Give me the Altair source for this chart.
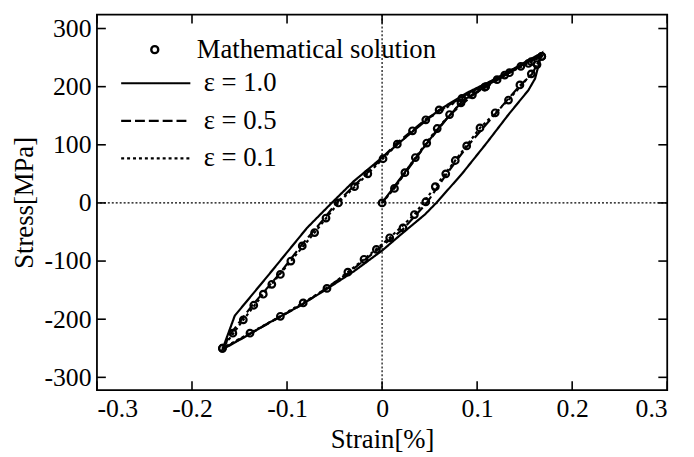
import altair as alt
import pandas as pd

# ---------------- data ----------------
x_ticks = [-0.3, -0.2, -0.1, 0.0, 0.1, 0.2, 0.3]
y_ticks = [-300, -200, -100, 0, 100, 200, 300]

# Mathematical solution (markers): initial loading, unloading branch, reloading branch
math_load_strain = [0.000, 0.013, 0.024, 0.035, 0.047, 0.058, 0.071, 0.083, 0.095, 0.108, 0.121, 0.134, 0.146, 0.157]
math_load_stress = [0, 25, 52, 78, 103, 128, 152, 172, 186, 199, 212, 224, 235, 243]
math_down_strain = [0.168, 0.163, 0.157, 0.145, 0.133, 0.119, 0.103, 0.089, 0.077, 0.067, 0.056, 0.046,
                    0.034, 0.022, 0.008, -0.006, -0.019, -0.036, -0.058, -0.083, -0.107, -0.139, -0.168]
math_down_stress = [252, 238, 222, 203, 177, 155, 129, 98, 73, 50, 28, 2,
                    -20, -43, -60, -80, -97, -119, -147, -172, -195, -224, -250]
math_up_strain = [-0.168, -0.157, -0.146, -0.135, -0.125, -0.116, -0.107, -0.096, -0.084, -0.071, -0.059, -0.046,
                  -0.029, -0.015, 0.001, 0.016, 0.032, 0.046, 0.060, 0.084, 0.109, 0.129, 0.154, 0.168]
math_up_stress = [-250, -224, -201, -176, -157, -140, -123, -100, -74, -51, -26, 0,
                  28, 50, 76, 101, 124, 143, 160, 180, 200, 220, 240, 252]

# eps = 1.0 (solid)
e10_strain = [0.000, 0.030, 0.060, 0.085, 0.110, 0.140, 0.168,
              0.161, 0.154, 0.133, 0.109, 0.084, 0.057, 0.045, 0.020, 0.000, -0.030, -0.060, -0.090, -0.120, -0.145, -0.168,
              -0.155, -0.120, -0.079, -0.053, -0.030, 0.000, 0.030, 0.060, 0.090, 0.120, 0.145, 0.168]
e10_stress = [0, 66, 130, 176, 202, 230, 258,
              214, 194, 152, 101, 50, 0, -20, -54, -82, -118, -150, -180, -207, -231, -252,
              -194, -125, -43, 0, 37, 78, 120, 160, 190, 214, 237, 258]

# eps = 0.5 (dashed)
e05_strain = [0.000, 0.024, 0.047, 0.071, 0.095, 0.121, 0.146, 0.168,
              0.158, 0.145, 0.119, 0.089, 0.067, 0.047, 0.022, -0.006, -0.036, -0.083, -0.139, -0.168,
              -0.158, -0.136, -0.108, -0.085, -0.060, -0.048, -0.016, 0.015, 0.046, 0.084, 0.129, 0.168]
e05_stress = [0, 51, 102, 151, 185, 211, 236, 254,
              222, 202, 153, 96, 48, 0, -45, -82, -121, -174, -225, -251,
              -222, -175, -122, -73, -25, 0, 51, 102, 144, 182, 222, 254]

# eps = 0.1 (dotted)
e01_strain = [0.000, 0.013, 0.035, 0.058, 0.083, 0.108, 0.134, 0.157, 0.168,
              0.157, 0.133, 0.103, 0.077, 0.056, 0.034, 0.008, -0.019, -0.058, -0.107, -0.168,
              -0.146, -0.125, -0.096, -0.071, -0.046, -0.015, 0.016, 0.046, 0.084, 0.129, 0.168]
e01_stress = [0, 25, 78, 128, 172, 199, 224, 243, 252,
              222, 177, 129, 73, 28, -20, -60, -97, -147, -195, -250,
              -201, -157, -100, -51, 0, 50, 101, 143, 180, 220, 252]

line_names = ["\u03b5 = 1.0", "\u03b5 = 0.5", "\u03b5 = 0.1"]
math_name = "Mathematical solution"

# ---------------- tables ----------------
df_math = pd.DataFrame({
    "strain": math_load_strain + math_down_strain + math_up_strain,
    "stress": math_load_stress + math_down_stress + math_up_stress,
})
df_math["series"] = math_name

frames = []
for name, xs_, ys_ in zip(line_names, [e10_strain, e05_strain, e01_strain], [e10_stress, e05_stress, e01_stress]):
    frames.append(pd.DataFrame({"strain": xs_, "stress": ys_, "series": name, "order": list(range(len(xs_)))}))
df_lines = pd.concat(frames, ignore_index=True)

# ---------------- chart ----------------
W, H = 577, 380
FONT = "Liberation Serif"
xs = alt.Scale(domain=[-0.3, 0.3], nice=False, zero=False)
ys = alt.Scale(domain=[-322, 324], nice=False, zero=False)
x_axis = alt.Axis(values=x_ticks, labelExpr="'' + datum.value", labelPadding=6, titlePadding=5,
                  titleFontSize=27)
y_axis = alt.Axis(values=y_ticks, labelExpr="'' + datum.value", labelPadding=6, titlePadding=6,
                  titleFontSize=27)


def X(field="strain"):
    return alt.X(f"{field}:Q", scale=xs, axis=x_axis, title="Strain[%]")


def Y(field="stress"):
    return alt.Y(f"{field}:Q", scale=ys, axis=y_axis, title="Stress[MPa]")


zero_v = alt.Chart(pd.DataFrame({"strain": [0.0]})).mark_rule(
    color="black", strokeWidth=1.2, strokeDash=[2, 2]).encode(x=X())
zero_h = alt.Chart(pd.DataFrame({"stress": [0]})).mark_rule(
    color="black", strokeWidth=1.2, strokeDash=[2, 2]).encode(y=Y())

df_xt = pd.DataFrame({"strain": x_ticks})
df_yt = pd.DataFrame({"stress": y_ticks})
TL = 9
tick_b = alt.Chart(df_xt).mark_rule(color="black", strokeWidth=1.6).encode(
    x=X(), y=alt.value(H), y2=alt.value(H - TL))
tick_t = alt.Chart(df_xt).mark_rule(color="black", strokeWidth=1.6).encode(
    x=X(), y=alt.value(0), y2=alt.value(TL))
tick_l = alt.Chart(df_yt).mark_rule(color="black", strokeWidth=1.6).encode(
    y=Y(), x=alt.value(0), x2=alt.value(TL))
tick_r = alt.Chart(df_yt).mark_rule(color="black", strokeWidth=1.6).encode(
    y=Y(), x=alt.value(W), x2=alt.value(W - TL))

points = alt.Chart(df_math).mark_point(filled=False, color="black", size=45, strokeWidth=2.2, opacity=1).encode(
    x=X(), y=Y(),
    shape=alt.Shape("series:N", scale=alt.Scale(domain=[math_name], range=["circle"]),
                    legend=alt.Legend(orient="none", legendX=45, legendY=22, title=None,
                                      symbolSize=50, symbolStrokeWidth=2.4, symbolStrokeColor="black",
                                      symbolOpacity=1, labelOffset=29, labelLimit=500)),
)

lines = alt.Chart(df_lines).mark_line(color="black", strokeWidth=2.2).encode(
    x=X(), y=Y(),
    strokeDash=alt.StrokeDash("series:N",
                              scale=alt.Scale(domain=line_names, range=[[1, 0], [10, 4], [3, 3]]),
                              legend=alt.Legend(orient="none", legendX=46, legendY=56, title=None,
                                                symbolType="M-3.5,0H3.5", symbolSize=400,
                                                symbolStrokeWidth=2.2, symbolStrokeColor="black",
                                                labelOffset=35, rowPadding=10, labelLimit=500)),
    order="order:Q",
)

chart = alt.layer(zero_v, zero_h, tick_b, tick_t, tick_l, tick_r, points, lines).properties(
    width=W, height=H,
    padding={"left": 90, "top": 4, "right": 19, "bottom": 64},
    autosize=alt.AutoSizeParams(type="none"),
    background="white",
).configure_view(
    stroke="black", strokeWidth=1.8
).configure_axis(
    labelFont=FONT, titleFont=FONT, labelFontSize=26, titleFontSize=27,
    titleFontWeight="normal", labelColor="black", titleColor="black",
    grid=False, domain=False, ticks=False, tickSize=0,
).configure_legend(
    labelFont=FONT, labelFontSize=27, labelColor="black", padding=0,
)

chart.save("out.html", embed_options={"renderer": "svg", "actions": False})
